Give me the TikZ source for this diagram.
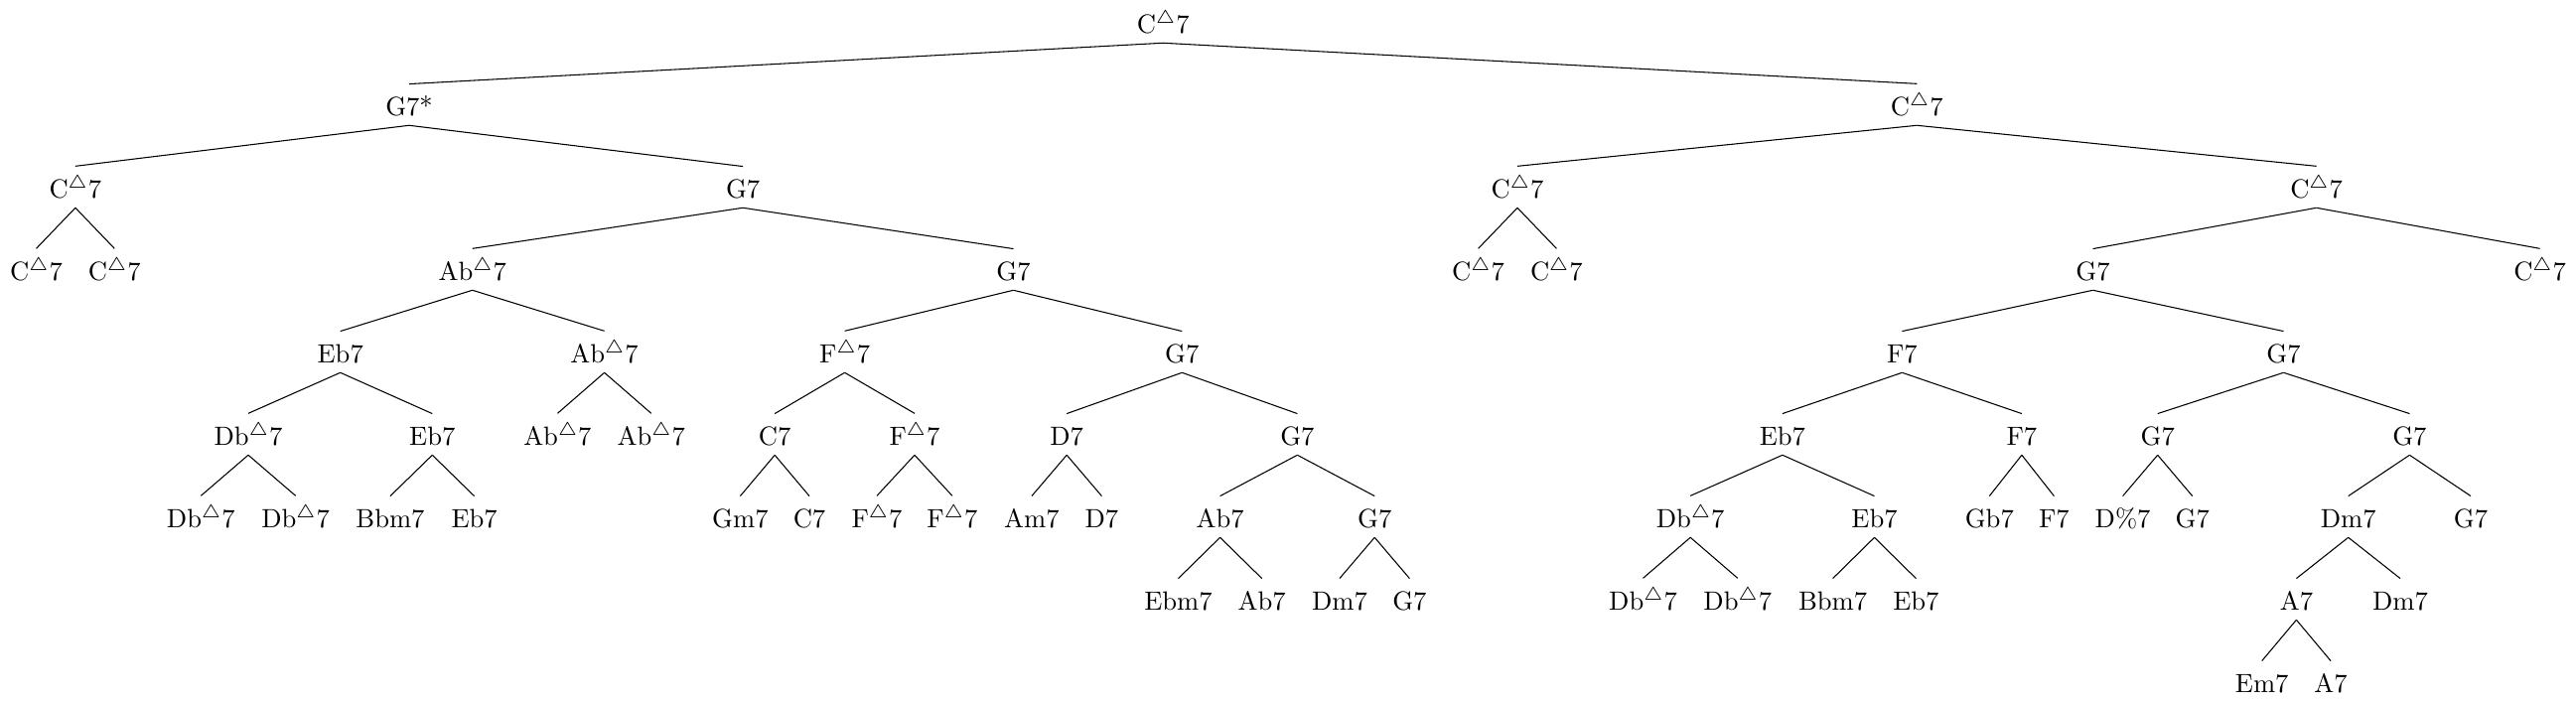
\documentclass[tikz,border=0pt]{standalone}
\usepackage{amssymb}
\begin{document}
\begin{tikzpicture}[x=0.376pt,y=-0.376pt,
  ch/.style={anchor=base,inner sep=3.33pt,execute at begin node={\rule{0pt}{8.4pt}}},
  edge/.style={line width=0.4pt}]
\useasboundingbox (0,0) rectangle (2594,706);
\newcommand{\M}{$^\triangle$}
% level 0
\node[ch] (r) at (1171.2,33.3) {C\M7};
% level 1
\node[ch] (a) at (412,116.3) {G7*};
\node[ch] (b) at (1930.3,116.3) {C\M7};
% level 2
\node[ch] (aa) at (75.9,199.3) {C\M7};
\node[ch] (ab) at (748.1,199.3) {G7};
\node[ch] (ba) at (1528,199.3) {C\M7};
\node[ch] (bb) at (2332.6,199.3) {C\M7};
% level 3
\node[ch] (aaa) at (36.5,282.3) {C\M7};
\node[ch] (aab) at (115.3,282.3) {C\M7};
\node[ch] (aba) at (475.7,282.3) {Ab\M7};
\node[ch] (abb) at (1020.5,282.3) {G7};
\node[ch] (baa) at (1488.6,282.3) {C\M7};
\node[ch] (bab) at (1567.4,282.3) {C\M7};
\node[ch] (bba) at (2107.5,282.3) {G7};
\node[ch] (bbb) at (2557.6,282.3) {C\M7};
% level 4
\node[ch] (abaa) at (342.7,365.3) {Eb7};
\node[ch] (abab) at (608.6,365.3) {Ab\M7};
\node[ch] (abba) at (850.6,365.3) {F\M7};
\node[ch] (abbb) at (1190.3,365.3) {G7};
\node[ch] (bbaa) at (1915.4,365.3) {F7};
\node[ch] (bbab) at (2299.5,365.3) {G7};
% level 5
\node[ch] (abaaa) at (250,448.3) {Db\M7};
\node[ch] (abaab) at (435.3,448.3) {Eb7};
\node[ch] (ababa) at (561.4,448.3) {Ab\M7};
\node[ch] (ababb) at (655.8,448.3) {Ab\M7};
\node[ch] (abbaa) at (780.2,448.3) {C7};
\node[ch] (abbab) at (921,448.3) {F\M7};
\node[ch] (abbba) at (1074.2,448.3) {D7};
\node[ch] (abbbb) at (1306.4,448.3) {G7};
\node[ch] (bbaaa) at (1794.9,448.3) {Eb7};
\node[ch] (bbaab) at (2035.9,448.3) {F7};
\node[ch] (bbaba) at (2172.7,448.3) {G7};
\node[ch] (bbabb) at (2426.4,448.3) {G7};
% level 6
\node[ch] (abaaaa) at (202.3,531.3) {Db\M7};
\node[ch] (abaaab) at (297.7,531.3) {Db\M7};
\node[ch] (abaaba) at (393,531.3) {Bbm7};
\node[ch] (abaabb) at (477.6,531.3) {Eb7};
\node[ch] (abbaaa) at (745.4,531.3) {Gm7};
\node[ch] (abbaab) at (815,531.3) {C7};
\node[ch] (abbaba) at (883,531.3) {F\M7};
\node[ch] (abbabb) at (958.9,531.3) {F\M7};
\node[ch] (abbbaa) at (1038.9,531.3) {Am7};
\node[ch] (abbbab) at (1109.4,531.3) {D7};
\node[ch] (abbbba) at (1228.6,531.3) {Ab7};
\node[ch] (abbbbb) at (1384.2,531.3) {G7};
\node[ch] (bbaaaa) at (1702.2,531.3) {Db\M7};
\node[ch] (bbaaab) at (1887.5,531.3) {Eb7};
\node[ch] (bbaaba) at (2003.3,531.3) {Gb7};
\node[ch] (bbaabb) at (2068.4,531.3) {F7};
\node[ch] (bbabaa) at (2137.6,531.3) {D\%7};
\node[ch] (bbabab) at (2207.7,531.3) {G7};
\node[ch] (bbabba) at (2364.7,531.3) {Dm7};
\node[ch] (bbabbb) at (2488,531.3) {G7};
% level 7
\node[ch] (abbbbaa) at (1186.5,614.3) {Ebm7};
\node[ch] (abbbbab) at (1270.7,614.3) {Ab7};
\node[ch] (abbbbba) at (1348.9,614.3) {Dm7};
\node[ch] (abbbbbb) at (1419.4,614.3) {G7};
\node[ch] (bbaaaaa) at (1654.5,614.3) {Db\M7};
\node[ch] (bbaaaab) at (1749.8,614.3) {Db\M7};
\node[ch] (bbaaaba) at (1845.6,614.3) {Bbm7};
\node[ch] (bbaaabb) at (1929.4,614.3) {Eb7};
\node[ch] (bbabbaa) at (2312.4,614.3) {A7};
\node[ch] (bbabbab) at (2417,614.3) {Dm7};
% level 8
\node[ch] (bbabbaaa) at (2277.7,697.3) {Em7};
\node[ch] (bbabbaab) at (2347,697.3) {A7};
% edges
\foreach \p/\c in {r/a, r/b,
  a/aa, a/ab, b/ba, b/bb,
  aa/aaa, aa/aab, ab/aba, ab/abb, ba/baa, ba/bab, bb/bba, bb/bbb,
  aba/abaa, aba/abab, abb/abba, abb/abbb, bba/bbaa, bba/bbab,
  abaa/abaaa, abaa/abaab, abab/ababa, abab/ababb, abba/abbaa, abba/abbab,
  abbb/abbba, abbb/abbbb, bbaa/bbaaa, bbaa/bbaab, bbab/bbaba, bbab/bbabb,
  abaaa/abaaaa, abaaa/abaaab, abaab/abaaba, abaab/abaabb, abbaa/abbaaa, abbaa/abbaab,
  abbab/abbaba, abbab/abbabb, abbba/abbbaa, abbba/abbbab, abbbb/abbbba, abbbb/abbbbb,
  bbaaa/bbaaaa, bbaaa/bbaaab, bbaab/bbaaba, bbaab/bbaabb, bbaba/bbabaa, bbaba/bbabab,
  bbabb/bbabba, bbabb/bbabbb,
  abbbba/abbbbaa, abbbba/abbbbab, abbbbb/abbbbba, abbbbb/abbbbbb,
  bbaaaa/bbaaaaa, bbaaaa/bbaaaab, bbaaab/bbaaaba, bbaaab/bbaaabb,
  bbabba/bbabbaa, bbabba/bbabbab,
  bbabbaa/bbabbaaa, bbabbaa/bbabbaab}
  \draw[edge] (\p.south) -- (\c.north);
\end{tikzpicture}
\end{document}
